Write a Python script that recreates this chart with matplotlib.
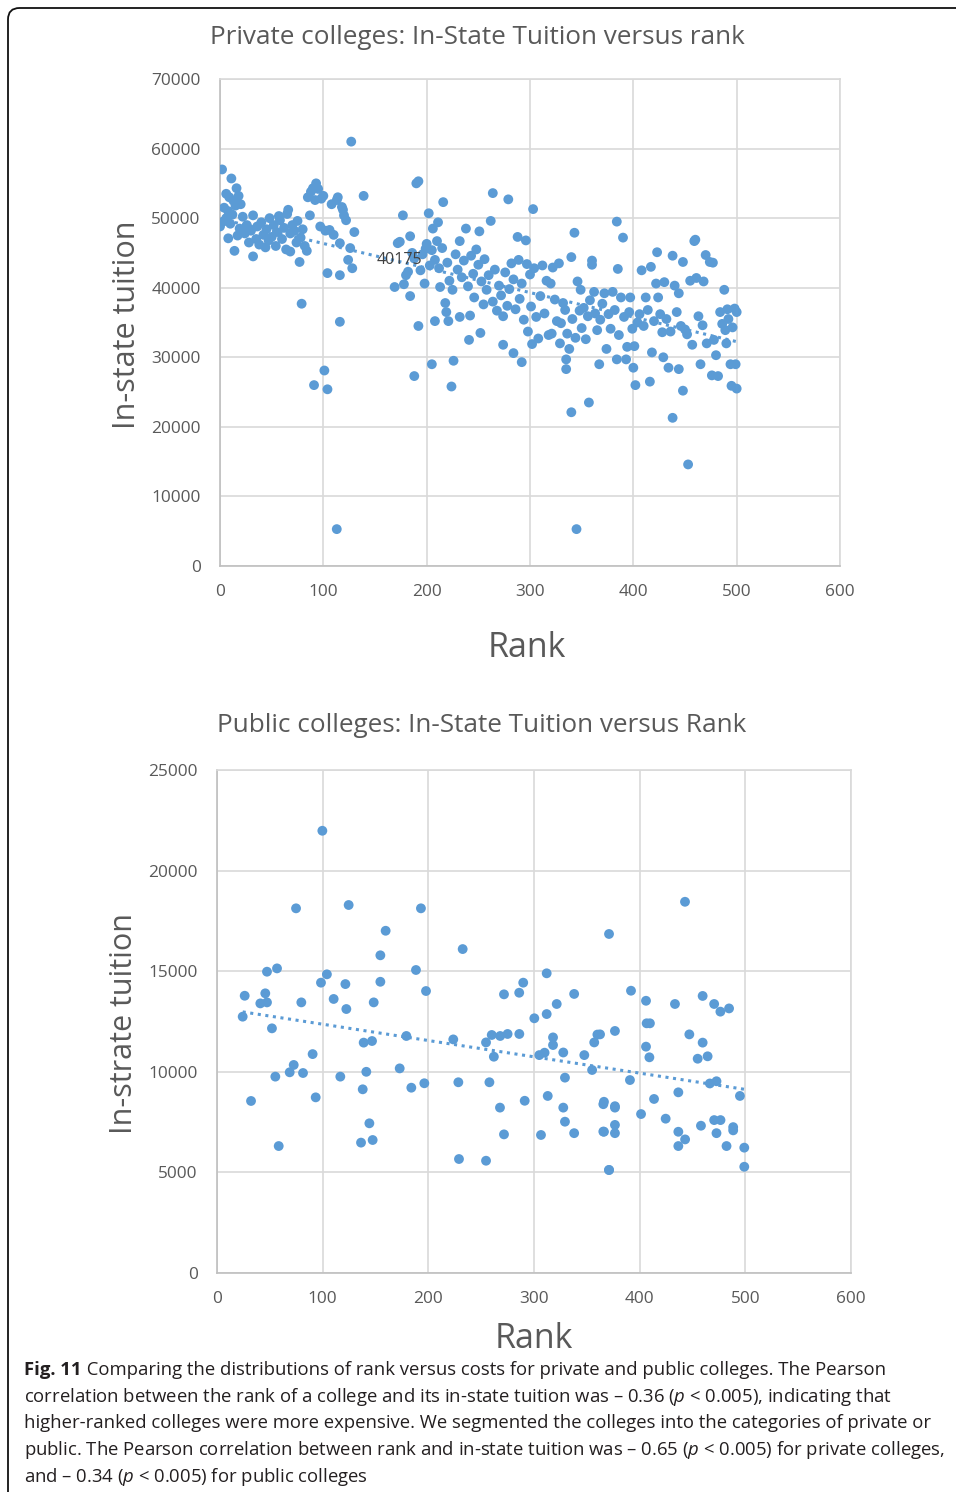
import numpy as np
import matplotlib
matplotlib.use("Agg")
import matplotlib.pyplot as plt
from matplotlib.patches import FancyBboxPatch

plt.rcParams['font.family'] = ['Open Sans', 'DejaVu Sans']
plt.rcParams['mathtext.fontset'] = 'custom'
plt.rcParams['mathtext.rm'] = 'Open Sans'
plt.rcParams['mathtext.it'] = 'Open Sans:italic'
plt.rcParams['mathtext.bf'] = 'Open Sans:bold'

# ---------------- data: private colleges (rank, in-state tuition) ----------------
private_rank = [
    2, 11, 16, 6, 9, 13, 18, 20, 4, 8, 12, 15, 22, 0, 3, 6, 8, 10, 14, 17, 19, 24, 26, 28, 30, 32, 32, 35, 36, 38,
    40, 42, 44, 45, 47, 48, 50, 52, 54, 55, 57, 58, 60, 62, 64, 65, 66, 68, 68, 70, 72, 74, 75, 77, 78, 79, 80, 82,
    84, 85, 87, 88, 90, 92, 93, 95, 97, 98, 100, 102, 104, 106, 108, 110, 113, 114, 116, 116, 116, 118, 119, 120,
    122, 124, 126, 127, 128, 130, 139, 101, 91, 104, 113,
    169, 172, 174, 177, 178, 180, 182, 184, 184, 186, 188, 188, 190, 192, 192, 194, 196, 198, 199, 200, 202, 203,
    205, 205, 206, 208, 208, 210, 211, 212, 213, 215, 216, 218, 219, 220, 221, 222, 224, 225, 226, 228, 230, 232,
    232, 234, 236, 238, 240, 241, 242, 243, 245, 246, 248, 250, 251, 252, 253, 255, 256, 258, 260, 262, 264, 264,
    266, 268,
    270, 272, 274, 274, 276, 278, 279, 280, 282, 284, 284, 286, 288, 289, 290, 292, 292, 294, 296, 297, 298, 300,
    301, 302, 303, 304, 306, 308, 310, 312, 314, 316, 318, 320, 321, 322, 324, 326, 328, 329, 330, 332, 334, 335,
    335, 336, 338,
    340, 340, 341, 343, 344, 345, 346, 348, 349, 350, 352, 354, 356, 357, 358, 360, 360, 362, 363, 365, 367, 368,
    370, 372, 374, 376, 378, 380, 382, 384, 384, 385, 386, 388, 390, 391, 393, 394, 396, 397, 399, 400,
    401, 402, 404, 406, 408, 410, 412, 414, 416, 417, 418, 420, 422, 423, 424, 426, 428, 429, 430, 432, 434, 436,
    438, 438, 440, 442, 444, 444, 446, 448, 448, 450, 452, 453, 455, 457, 459, 460, 461, 463, 465, 467, 468, 470,
    471, 474, 476, 477, 478, 480, 482, 484, 486, 488, 489, 490, 491, 492, 494, 495, 496, 498, 499, 500, 500,
]
private_tuition = [
    57000, 55700, 54300, 53500, 53000, 52500, 53200, 52000, 51500, 51000, 50500, 51800, 50200, 48800, 49500, 50000,
    47100, 49200, 45300, 47500, 48500, 47800, 49000, 46500, 48200, 44500, 50400, 47000, 48800, 46200,
    49400, 47600, 45800, 48400, 46800, 50000, 47300, 49000, 46000, 48000, 50300, 49700, 47000, 48600, 45500, 50600,
    51200, 47800, 45200, 49000, 48200, 46500, 49600, 43700, 47200, 37700, 48400, 46000,
    45300, 53000, 50400, 53800, 54300, 52600, 55000, 54200, 48800, 52800, 53200, 48200, 42100, 48300, 52000, 47600,
    52600, 53000, 46400, 41800, 35100, 51600, 51200, 50400,
    49700, 44000, 45700, 61000, 42800, 48000, 53200, 28100, 26000, 25400, 5300,
    40100, 46400, 46600, 50400, 40500, 41800, 42300, 47400, 38800, 45000, 44200, 27300, 55000, 55300, 34500, 42500,
    44800, 40600, 45600, 46300, 50700, 43200,
    45400, 29000, 48500, 35200, 44000, 46700, 49400, 42800, 40100, 45700, 52300, 37800, 36500, 43600, 35200, 41000,
    25800, 39700, 29500, 44800, 42600, 46700,
    35800, 41500, 43900, 48500, 40200, 32500, 36000, 44600, 42000, 38600, 45500, 43300, 48100, 33500, 40900, 37600,
    44100, 39700, 41800, 49600, 53600, 38000,
    42600, 36700,
    40300, 38900, 31800, 35900, 42200, 37400, 52700, 39800, 43500, 41200, 30600, 36900, 47300, 44000, 38400, 29300,
    40600, 35400, 46800, 43400, 33700, 41900,
    37300, 31900, 51300, 42800, 35800, 32700, 38800, 43200, 36300, 41000, 33200, 40600, 33400, 42900, 38300, 35200,
    43500, 32000, 34900, 37800, 36800, 29700,
    28300, 33400, 31200,
    44400, 22100, 35500, 47900, 32800, 5300, 40900, 36700, 39700, 34200, 37100, 32600, 35900, 23500, 38200, 43900,
    43300, 39400, 36300, 33900, 29000, 35400,
    37700, 39200, 31200, 36200, 34100, 39400, 36800, 49500, 29700, 42700, 33200, 38600, 47200, 35800, 29700, 31500,
    36500, 38600, 34100, 28500,
    31600, 26000, 35000, 36200, 42500, 34500, 38600, 36800, 26500, 43000, 30700, 35200, 40600, 45100, 38600, 36200,
    33600, 30000, 40800, 35500, 28500, 33700,
    44600, 21300, 40300, 36500, 28300, 39200, 34500, 43700, 25200, 34000, 33300, 14600, 41000, 31800, 46700, 46900,
    41400, 35900, 29000, 34600, 40900, 44700,
    32000, 43700, 27400, 43600, 32500, 30300, 27300, 36500, 34800, 39700, 33900, 32000, 36900, 35500, 29000, 25900,
    34300, 37000, 29000, 25500, 36500,
]

# ---------------- data: public colleges (rank, in-state tuition) ----------------
public_rank = [
    99.7, 74.8, 124.6, 193, 159.6, 154.6, 47.3, 56.8, 104, 98.4, 121.5, 154.6, 188.3, 197.8, 26.2, 45.7, 41, 47.3,
    79.8, 110.4, 122.4, 148.3, 24.3, 52, 179.2, 138.8, 146.7, 90.5, 72.6, 68.8, 81.4, 55.2, 116.7, 141.3, 172.9,
    32.2, 93.4, 137.9, 183.9, 196.2, 144.2, 136.3, 147.3, 58.4,
    232.5, 371, 312, 271.6, 286, 289.8, 338, 321.5, 312, 300.3, 376.6, 223.6, 254.6, 260, 268, 275, 286.1, 262,
    305, 310, 318, 318, 327.7, 347.6, 357, 360, 355, 329.3, 228.4, 257.8, 291.2, 313, 267.8, 327.7, 365.6, 376.6,
    329.3, 271.6, 306.6, 338, 365.6, 376.6, 376.6, 229, 254.6, 371,
    442.9, 391.8, 406, 433.4, 459.6, 470.5, 476.4, 484.6, 406.6, 409.7, 362.5, 447, 459.6, 406, 409.2, 454.9,
    464.3, 390.8, 466.4, 472.7, 494.9, 436.6, 413.6, 366.2, 376.6, 401.3, 424.6, 458, 470.5, 476.5, 488.5, 488.5,
    366.2, 436.6, 443, 436.6, 472.7, 482.2, 499, 499, 371,
]
public_tuition = [
    21980, 18125, 18290, 18125, 17010, 15790, 14975, 15140, 14845, 14430, 14360, 14475, 15060, 14015, 13780, 13900,
    13400, 13450, 13450, 13620, 13120, 13450, 12740, 12160, 11780, 11450, 11530, 10880, 10340, 9975, 9940, 9760,
    9760, 10000, 10170, 8550, 8730, 9130, 9210, 9430, 7440, 6480, 6610, 6310,
    16100, 16850, 14895, 13850, 13930, 14430, 13870, 13370, 12870, 12660, 12030, 11610, 11460, 11830, 11780, 11880,
    11880, 10750, 10830, 10950, 11710, 11330, 10960, 10830, 11460, 11850, 10090, 9710, 9480, 9480, 8560, 8800,
    8220, 8220, 8390, 8220, 7520, 6890, 6860, 6950, 7030, 7360, 6950, 5665, 5580, 5120,
    18450, 14030, 13530, 13370, 13770, 13370, 12990, 13150, 12410, 12410, 11860, 11860, 11450, 11250, 10720, 10650,
    10770, 9590, 9420, 9530, 8800, 8980, 8650, 8510, 8290, 7900, 7670, 7320, 7600, 7600, 7250, 7090,
    7020, 7020, 6640, 6310, 6950, 6310, 6230, 5280, 5120,
]

private_ticks_x = [0, 100, 200, 300, 400, 500, 600]
private_ticks_y = [0, 10000, 20000, 30000, 40000, 50000, 60000, 70000]
public_ticks_x = [0, 100, 200, 300, 400, 500, 600]
public_ticks_y = [0, 5000, 10000, 15000, 20000, 25000]
trend_label = "40175"

# ---------------- styling ----------------
DOT = '#5b9bd5'
GRID = '#d9d9d9'
TXT = '#595959'

fig = plt.figure(figsize=(9.56, 14.92), dpi=100)

# frame around the figure panel
frame = FancyBboxPatch((8 / 956, -0.05), 1.2, 1.05 - 8 / 1492, boxstyle="round,pad=0,rounding_size=0.012",
                       transform=fig.transFigure, fill=False, edgecolor='#111111', linewidth=1.3,
                       mutation_aspect=956 / 1492)
fig.patches.append(frame)


def style_axes(ax, xt, yt, ylim):
    ax.set_xlim(0, 600)
    ax.set_ylim(*ylim)
    ax.set_xticks(xt)
    ax.set_yticks(yt)
    ax.grid(True, color=GRID, linewidth=1.2, zorder=0)
    ax.set_axisbelow(True)
    for s in ax.spines.values():
        s.set_color(GRID)
        s.set_linewidth(1.2)
    ax.spines['left'].set_color('#bfbfbf')
    ax.spines['bottom'].set_color('#bfbfbf')
    ax.tick_params(length=0, labelsize=12.4, colors=TXT)
    ax.tick_params(axis='y', pad=14)
    ax.tick_params(axis='x', pad=13)


# ---------------- top: private ----------------
ax1 = fig.add_axes([220 / 956, 1 - 566 / 1492, 620 / 956, 487 / 1492])
style_axes(ax1, private_ticks_x, private_ticks_y, (0, 70000))
px = np.array(private_rank, dtype=float)
py = np.array(private_tuition, dtype=float)
c1 = np.polyfit(px, py, 1)
xx = np.array([px.min(), px.max()])
ax1.plot(xx, np.polyval(c1, xx), linestyle=(0, (1, 1.5)), color=DOT, linewidth=2.2, zorder=2)
ax1.scatter(px, py, s=50, color=DOT, edgecolors='none', zorder=3)
ax1.text(174, 43970, trend_label, fontsize=11.5, color='#404040', ha='center', va='center', zorder=4)
ax1.text(0.416, 1.086, "Private colleges: In-State Tuition versus rank", transform=ax1.transAxes,
         ha='center', va='center', fontsize=18.8, color=TXT)
ax1.text(-0.15, 0.495, "In-state tuition", transform=ax1.transAxes, rotation=90,
         ha='center', va='center', fontsize=22, color=TXT)
ax1.text(0.495, -0.168, "Rank", transform=ax1.transAxes, ha='center', va='center', fontsize=24.5, color=TXT)

# ---------------- bottom: public ----------------
ax2 = fig.add_axes([217 / 956, 1 - 1273 / 1492, 634 / 956, 503 / 1492])
style_axes(ax2, public_ticks_x, public_ticks_y, (0, 25000))
ux = np.array(public_rank, dtype=float)
uy = np.array(public_tuition, dtype=float)
c2 = np.polyfit(ux, uy, 1)
xx2 = np.array([ux.min(), ux.max()])
ax2.plot(xx2, np.polyval(c2, xx2), linestyle=(0, (1, 1.5)), color=DOT, linewidth=2.2, zorder=2)
ax2.scatter(ux, uy, s=50, color=DOT, edgecolors='none', zorder=3)
ax2.text(0.418, 1.0875, "Public colleges: In-State Tuition versus Rank", transform=ax2.transAxes,
         ha='center', va='center', fontsize=18.8, color=TXT)
ax2.text(-0.1467, 0.497, "In-strate tuition", transform=ax2.transAxes, rotation=90,
         ha='center', va='center', fontsize=22, color=TXT)
ax2.text(0.5, -0.131, "Rank", transform=ax2.transAxes, ha='center', va='center', fontsize=24.5, color=TXT)

# ---------------- caption ----------------
CAP = '#231f20'
CAP_FS = 13.3
first_rest = " Comparing the distributions of rank versus costs for private and public colleges. The Pearson"
caption_lines = [
    r"correlation between the rank of a college and its in-state tuition was – 0.36 ($\mathit{p}$ < 0.005), indicating that",
    r"higher-ranked colleges were more expensive. We segmented the colleges into the categories of private or",
    r"public. The Pearson correlation between rank and in-state tuition was – 0.65 ($\mathit{p}$ < 0.005) for private colleges,",
    r"and – 0.34 ($\mathit{p}$ < 0.005) for public colleges",
]
line_y = [1396, 1422, 1449, 1476]
t0 = fig.text(24 / 956, 1 - 1369 / 1492, "Fig. 11", ha='left', va='baseline', fontsize=CAP_FS,
              fontweight='bold', color=CAP)
# shift baseline to match center-ish placement of other lines
t0.set_y(1 - 1375 / 1492)
fig.canvas.draw()
fig.text(0, 0, first_rest, fontsize=CAP_FS, color=CAP, ha='left', va='baseline',
         transform=matplotlib.transforms.offset_copy(t0.get_transform(), fig=fig, x=0, y=0))
# position the rest of line 1 right after the bold part
r = fig.canvas.get_renderer()
bb = t0.get_window_extent(r)
fig.texts[-1].set_position((bb.x1 / fig.bbox.width, 1 - 1375 / 1492))
fig.texts[-1].set_transform(fig.transFigure)
for s, yy in zip(caption_lines, line_y):
    fig.text(24 / 956, 1 - (yy + 6) / 1492, s, ha='left', va='baseline', fontsize=CAP_FS, color=CAP)

fig.savefig("out.png", dpi=100)
